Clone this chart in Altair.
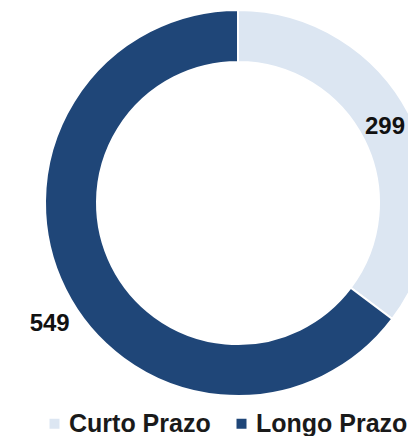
import altair as alt
import pandas as pd

categories = ["Curto Prazo", "Longo Prazo"]
values = [299, 549]
colors = ["#DCE6F2", "#1F4678"]

df = pd.DataFrame({"cat": categories, "val": values, "ord": [0, 1]})
total = sum(values)

CX, CY = 230, 195

base = alt.Chart(df).transform_stack(
    stack="val", groupby=[], as_=["v0", "v1"], sort=[alt.SortField("ord")]
).transform_calculate(mid="(datum.v0 + datum.v1) / 2")

arc = base.mark_arc(outerRadius=193, innerRadius=141, stroke="white", strokeWidth=2).encode(
    theta=alt.Theta("v0:Q", scale=alt.Scale(domain=[0, total])),
    theta2="v1:Q",
    x=alt.value(CX),
    y=alt.value(CY),
    color=alt.Color(
        "cat:N",
        scale=alt.Scale(domain=categories, range=colors),
        legend=alt.Legend(
            title=None, orient="none", direction="horizontal", legendX=34, legendY=403,
            labelFont="Liberation Sans", labelFontSize=25, labelFontWeight="bold",
            labelColor="#1a1a1a", symbolType="square", symbolSize=100,
            symbolStrokeWidth=0, columnPadding=18, labelOffset=2,
            labelLimit=400,
        ),
    ),
)

txt_style = dict(font="Liberation Sans", fontSize=24, fontWeight="bold", color="#111111")

t1 = base.transform_filter(alt.datum.cat == "Curto Prazo").mark_text(radius=171, dx=-6, **txt_style).encode(
    theta=alt.Theta("mid:Q", scale=alt.Scale(domain=[0, total])),
    x=alt.value(CX), y=alt.value(CY), text="val:Q")
t2 = base.transform_filter(alt.datum.cat == "Longo Prazo").mark_text(radius=215, dx=4, dy=25, **txt_style).encode(
    theta=alt.Theta("mid:Q", scale=alt.Scale(domain=[0, total])),
    x=alt.value(CX), y=alt.value(CY), text="val:Q")

chart = alt.layer(arc, t1, t2).resolve_scale(theta="independent").properties(
    width=400, height=428, padding=0, autosize=alt.AutoSizeParams(type="none")
).configure_view(stroke=None)

chart.save("out.html", embed_options={"renderer": "svg", "actions": False})
